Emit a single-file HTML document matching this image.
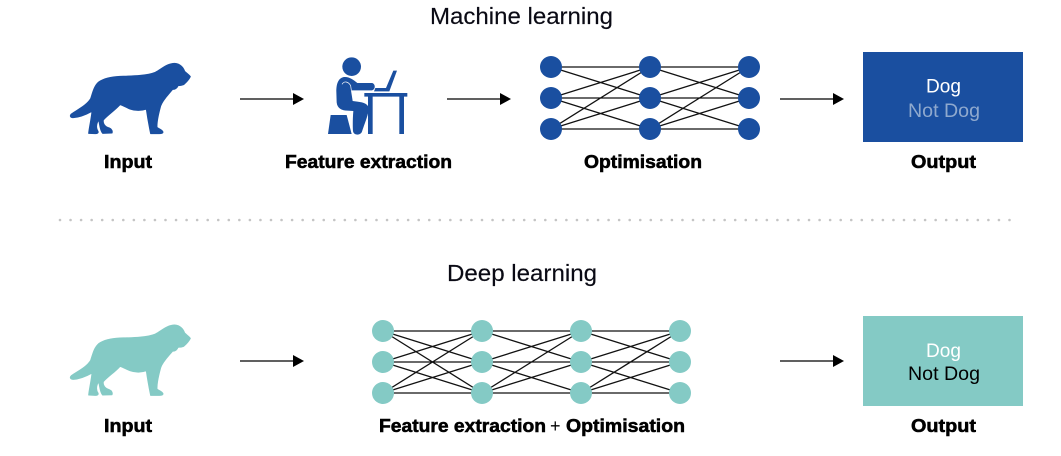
<!DOCTYPE html>
<html><head><meta charset="utf-8"><style>
html,body{margin:0;padding:0;background:#fff;width:1061px;height:456px;overflow:hidden}
svg{display:block}
text{font-family:"Liberation Sans",sans-serif}
.t{font-size:23px;fill:#0a0a14;stroke:#0a0a14;stroke-width:.15px}
.l{font-size:18.5px;font-weight:bold;fill:#000;stroke:#000;stroke-width:.55px}
.o{font-size:19.5px}
</style></head><body>
<svg width="1061" height="456" viewBox="0 0 1061 456" xmlns="http://www.w3.org/2000/svg">
<defs>
<path id="dog" stroke-width="3" stroke-linejoin="round" d="M421 110C417 118 410 126 402 133C396 137 388 136 384 137C382 143 376 149 368 148C354 165 338 180 332 198C326 220 320 245 321 262C324 266 336 268 339 276C339 280 334 281 328 281L302 281C298 262 292 228 289 207C276 212 256 213 240 207C230 203 218 196 210 194C196 210 172 226 160 240C158 250 164 260 178 264C186 267 188 275 186 279L158 280C150 272 150 256 146 240C138 252 138 266 144 274C146 279 142 281 136 281L116 280C118 260 124 236 126 214C108 224 86 232 70 233C62 233 58 228 64 222C84 208 110 196 122 176C128 158 132 138 146 126C160 116 184 110 210 109C244 108 288 108 316 97C336 86 352 70 374 70C390 71 400 82 404 94C410 100 418 105 421 110Z"/>
<g id="arrow"><line x1="0" y1="0" x2="54" y2="0" stroke="#000" stroke-width="1.3"/><path d="M53 -6L64 0L53 6Z" fill="#000"/></g>
</defs>

<text class="t" x="430" y="24" textLength="183" lengthAdjust="spacingAndGlyphs">Machine learning</text>
<text class="t" x="447" y="281" textLength="150" lengthAdjust="spacingAndGlyphs">Deep learning</text>

<use href="#dog" fill="#1a4fa0" stroke="#1a4fa0" transform="translate(50 40) scale(.3333)"/>
<use href="#dog" fill="#84cac5" stroke="#84cac5" transform="translate(50 301.700) scale(.3333)"/>

<!-- person -->
<g transform="translate(310 45) scale(.3333)" fill="#1a4fa0">
<circle cx="125" cy="65" r="28"/>
<path d="M103 96C86 98 79 114 79 140L80 172C82 190 94 196 112 197L130 198C128 220 128 248 129 258C131 272 152 272 156 260C162 240 176 208 176 192C176 178 162 172 142 170L128 168L123 136L186 136C197 134 197 116 186 114L142 114C130 104 118 95 103 96Z"/>
<path d="M196 129L228 129L250 77L261 77L238 139L192 139Z"/>
<path d="M163 144L292 144L292 155L282 155L282 267L268 267L268 155L188 155L188 267L174 267L174 155L163 155Z"/>
<path d="M62 210L110 210L125 267L54 267Z"/>
<path d="M96 118C102 108 114 108 122 122L124 136" fill="none" stroke="#fff" stroke-width="2"/>
</g>

<use href="#arrow" x="240" y="99"/>
<use href="#arrow" x="447" y="99"/>
<use href="#arrow" x="780" y="99"/>
<use href="#arrow" x="240" y="361"/>
<use href="#arrow" x="780" y="361"/>

<!-- ML network -->
<g stroke="#111" stroke-width="1.3" fill="none">
<path d="M551 67L650 67M551 67L650 98M551 98L650 67M551 98L650 98M551 98L650 129M551 129L650 67M551 129L650 98M551 129L650 129"/>
<path d="M650 67L749 67M650 67L749 98M650 98L749 67M650 98L749 98M650 98L749 129M650 129L749 67M650 129L749 98M650 129L749 129"/>
</g>
<g fill="#1a4fa0">
<circle cx="551" cy="67" r="11"/><circle cx="551" cy="98" r="11"/><circle cx="551" cy="129" r="11"/>
<circle cx="650" cy="67" r="11"/><circle cx="650" cy="98" r="11"/><circle cx="650" cy="129" r="11"/>
<circle cx="749" cy="67" r="11"/><circle cx="749" cy="98" r="11"/><circle cx="749" cy="129" r="11"/>
</g>

<!-- DL network -->
<g stroke="#111" stroke-width="1.3" fill="none">
<path d="M383 331L482 331M383 331L482 362M383 331L482 393M383 362L482 331M383 362L482 362M383 362L482 393M383 393L482 331M383 393L482 362M383 393L482 393"/>
<path d="M482 331L581 331M482 331L581 362M482 362L581 331M482 362L581 362M482 362L581 393M482 393L581 331M482 393L581 362M482 393L581 393"/>
<path d="M581 331L680 331M581 331L680 362M581 362L680 331M581 362L680 362M581 362L680 393M581 393L680 331M581 393L680 362M581 393L680 393"/>
</g>
<g fill="#84cac5">
<circle cx="383" cy="331" r="11"/><circle cx="383" cy="362" r="11"/><circle cx="383" cy="393" r="11"/>
<circle cx="482" cy="331" r="11"/><circle cx="482" cy="362" r="11"/><circle cx="482" cy="393" r="11"/>
<circle cx="581" cy="331" r="11"/><circle cx="581" cy="362" r="11"/><circle cx="581" cy="393" r="11"/>
<circle cx="680" cy="331" r="11"/><circle cx="680" cy="362" r="11"/><circle cx="680" cy="393" r="11"/>
</g>

<!-- outputs -->
<rect x="863" y="52" width="160" height="90" fill="#1a4fa0"/>
<text class="o" x="926" y="92.500" textLength="35" lengthAdjust="spacingAndGlyphs" fill="#fff">Dog</text>
<text class="o" x="908" y="117" textLength="72" lengthAdjust="spacingAndGlyphs" fill="#8fa9ce">Not Dog</text>
<rect x="863" y="316" width="160" height="90" fill="#84cac5"/>
<text class="o" x="926" y="357" textLength="35" lengthAdjust="spacingAndGlyphs" fill="#fff">Dog</text>
<text class="o" x="908" y="380" textLength="72" lengthAdjust="spacingAndGlyphs" fill="#000">Not Dog</text>

<!-- labels -->
<text class="l" x="104" y="168" textLength="48" lengthAdjust="spacingAndGlyphs">Input</text>
<text class="l" x="285" y="168" textLength="167" lengthAdjust="spacingAndGlyphs">Feature extraction</text>
<text class="l" x="584" y="168" textLength="118" lengthAdjust="spacingAndGlyphs">Optimisation</text>
<text class="l" x="911" y="168" textLength="65" lengthAdjust="spacingAndGlyphs">Output</text>
<text class="l" x="104" y="432" textLength="48" lengthAdjust="spacingAndGlyphs">Input</text>
<text class="l" x="379" y="432" textLength="167" lengthAdjust="spacingAndGlyphs">Feature extraction</text>
<text x="550" y="432" font-size="18" fill="#000">+</text>
<text class="l" x="566" y="432" textLength="119" lengthAdjust="spacingAndGlyphs">Optimisation</text>
<text class="l" x="911" y="432" textLength="65" lengthAdjust="spacingAndGlyphs">Output</text>

<!-- dotted divider -->
<line x1="60" y1="220" x2="1012" y2="220" stroke="#c4c4c4" stroke-width="2.6" stroke-linecap="round" stroke-dasharray="0 10.55"/>
</svg>
</body></html>
